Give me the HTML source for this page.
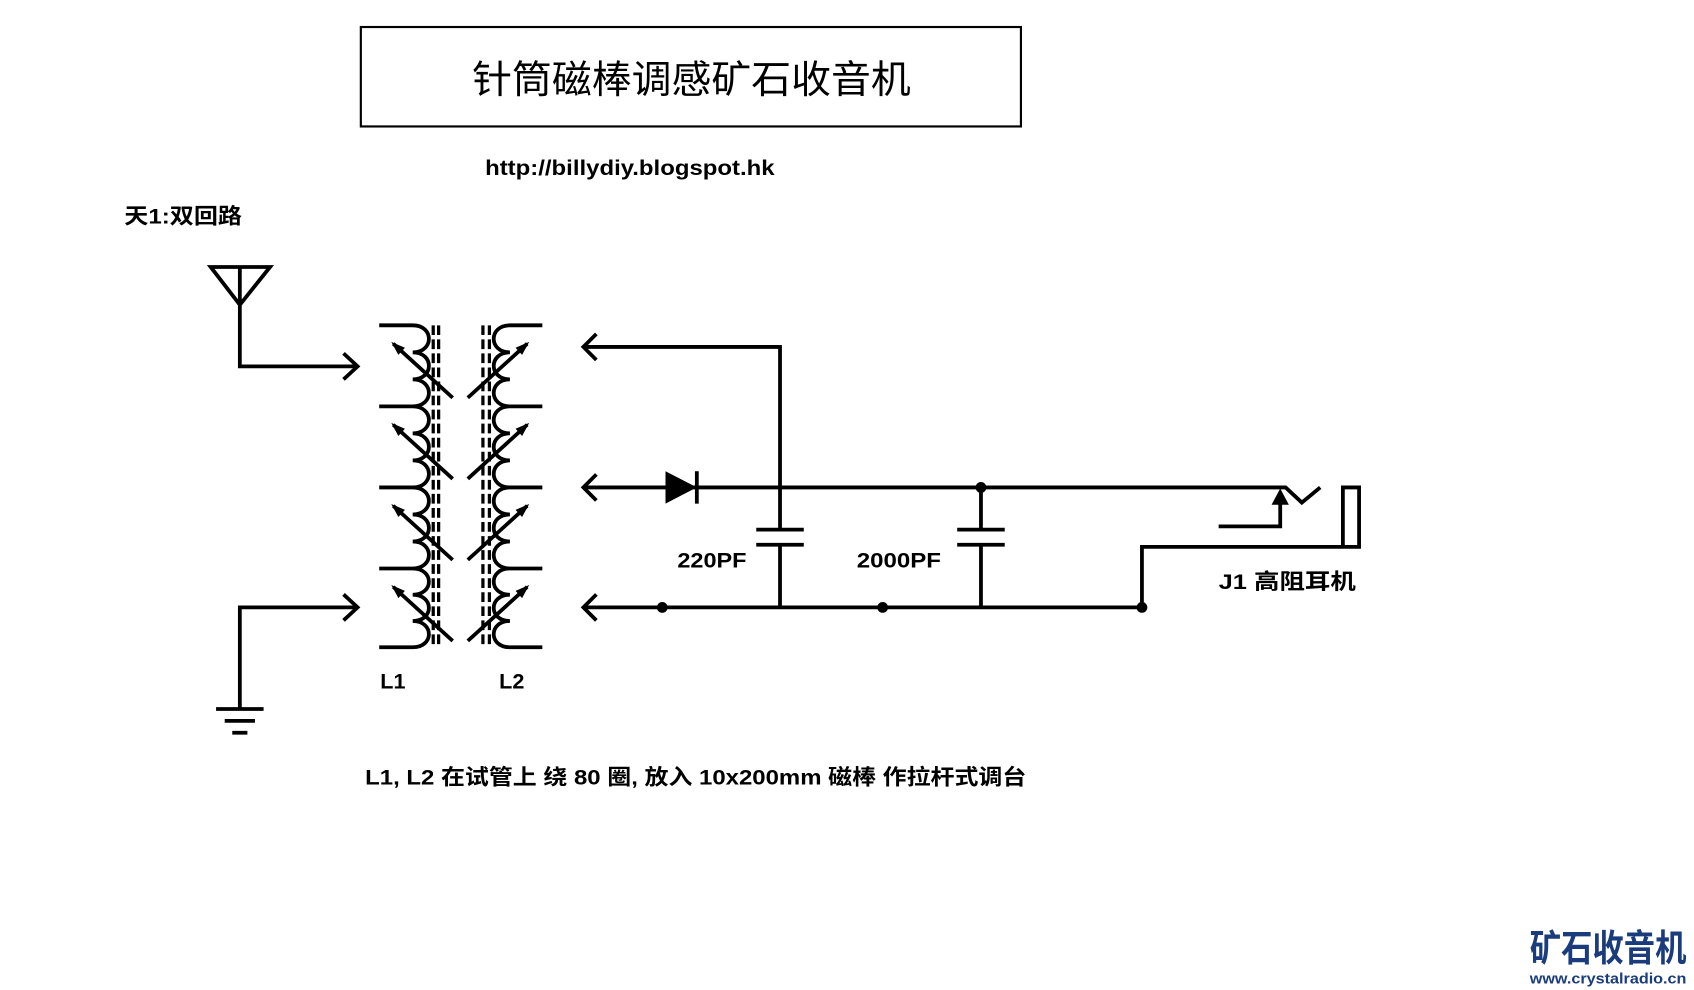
<!DOCTYPE html>
<html><head><meta charset="utf-8"><style>
html,body{margin:0;padding:0;background:#fff;}
svg{display:block;}
text{font-family:"Liberation Sans","Noto Sans CJK SC",sans-serif;}
</style></head><body>
<svg width="1694" height="990" viewBox="0 0 1568 916" preserveAspectRatio="none" xmlns="http://www.w3.org/2000/svg">
<defs>
<marker id="ah" viewBox="0 0 10 10" refX="9" refY="5" markerWidth="5" markerHeight="5" orient="auto" markerUnits="userSpaceOnUse" style="overflow:visible">
<path d="M-12,-4 L14,5 L-12,14 Z" fill="#000"/>
</marker>
</defs>
<rect x="334" y="25" width="611" height="92" fill="none" stroke="#000" stroke-width="2"/>
<text x="437" y="86" font-size="36" textLength="406" lengthAdjust="spacingAndGlyphs">针筒磁棒调感矿石收音机</text>
<text x="449" y="162" font-size="20" font-weight="bold" textLength="268" lengthAdjust="spacingAndGlyphs">http://billydiy.blogspot.hk</text>
<text x="115" y="207" font-size="20" font-weight="bold" textLength="109" lengthAdjust="spacingAndGlyphs">天1:双回路</text>

<g stroke="#000" stroke-width="3.5" fill="none" stroke-linecap="butt">
<path d="M195,247 H250 L222,282 Z M222,247 V339 H330"/>
<path d="M318,327 L331,339 L318,351"/>
<path d="M222,655 V562 H330"/>
<path d="M318,550 L331,562 L318,574"/>
<path d="M200,656 H244 M208,667 H236 M215,678 H229"/>
<path d="M351,301 H382 c20,0 20,25 0,25 c20,0 20,25 0,25 c20,0 20,25 0,25 H351 M382,376 c20,0 20,25 0,25 c20,0 20,25 0,25 c20,0 20,25 0,25 H351 M382,451 c20,0 20,25 0,25 c20,0 20,25 0,25 c20,0 20,25 0,25 H351 M382,526 c20,0 20,24.3 0,24.3 c20,0 20,24.3 0,24.3 c20,0 20,24.3 0,24.3 H351"/>
<path d="M502,301 H472 c-20,0 -20,25 0,25 c-20,0 -20,25 0,25 c-20,0 -20,25 0,25 H502 M472,376 c-20,0 -20,25 0,25 c-20,0 -20,25 0,25 c-20,0 -20,25 0,25 H502 M472,451 c-20,0 -20,25 0,25 c-20,0 -20,25 0,25 c-20,0 -20,25 0,25 H502 M472,526 c-20,0 -20,24.3 0,24.3 c-20,0 -20,24.3 0,24.3 c-20,0 -20,24.3 0,24.3 H502"/>
<g stroke-dasharray="9,4" stroke-width="3">
<path d="M401,301 V600 M406,301 V600 M447,301 V600 M453,301 V600"/>
</g>
<path d="M419,368 L364,318" marker-end="url(#ah)"/>
<path d="M419,443 L364,393" marker-end="url(#ah)"/>
<path d="M419,518 L364,468" marker-end="url(#ah)"/>
<path d="M419,593 L364,543" marker-end="url(#ah)"/>
<path d="M433,368 L488,318" marker-end="url(#ah)"/>
<path d="M433,443 L488,393" marker-end="url(#ah)"/>
<path d="M433,518 L488,468" marker-end="url(#ah)"/>
<path d="M433,593 L488,543" marker-end="url(#ah)"/>
<path d="M540,321 H722 V490 M722,503 V562"/>
<path d="M552,309 L540,321 L552,333"/>
<path d="M540,451 H1190 L1205,465 L1222,451"/>
<path d="M552,439 L540,451 L552,463"/>
<path d="M540,562 H1057 V506 H1258 V451 H1243 V506"/>
<path d="M552,550 L540,562 L552,574"/>
<path d="M700,490 H744 M700,504 H744"/>
<path d="M908,451 V490 M908,503 V562"/>
<path d="M886,490 H930 M886,504 H930"/>
<path d="M645,436 V466"/>
<path d="M1128,487 H1185 V466"/>
</g>
<path d="M616,436 L645,451 L616,466 Z" fill="#000"/>
<path d="M1177,467 L1185,452 L1193,467 Z" fill="#000"/>
<g fill="#000">
<circle cx="908" cy="451" r="5"/>
<circle cx="613" cy="562" r="5"/>
<circle cx="817" cy="562" r="5"/>
<circle cx="1057" cy="562" r="5"/>
</g>
<g font-size="20" font-weight="bold">
<text x="627" y="525" textLength="64" lengthAdjust="spacingAndGlyphs">220PF</text>
<text x="793" y="525" textLength="78" lengthAdjust="spacingAndGlyphs">2000PF</text>
<text x="1128" y="545" textLength="127" lengthAdjust="spacingAndGlyphs">J1  高阻耳机</text>
<text x="352" y="637">L1</text>
<text x="462" y="637">L2</text>
<text x="338" y="726" textLength="612" lengthAdjust="spacingAndGlyphs">L1, L2 在试管上 绕 80 圈, 放入 10x200mm 磁棒 作拉杆式调台</text>
</g>
<text x="1416" y="889" font-size="34" font-weight="bold" fill="#1b3c7c" textLength="145" lengthAdjust="spacingAndGlyphs">矿石收音机</text>
<text x="1416" y="910" font-size="14" font-weight="bold" fill="#1b3c7c" textLength="145" lengthAdjust="spacingAndGlyphs">www.crystalradio.cn</text>
</svg>
</body></html>
